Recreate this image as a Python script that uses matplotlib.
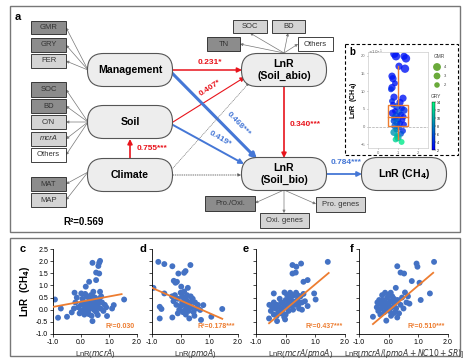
import numpy as np
import matplotlib.pyplot as plt
from matplotlib.patches import FancyBboxPatch, Rectangle
from matplotlib.cm import ScalarMappable
from matplotlib.colors import Normalize

plt.rcParams['font.family'] = ['Liberation Sans', 'DejaVu Sans']

# ---- data ----
path_coef = ['0.231*', '0.407*', '0.468***', '0.419*', '0.755***', '0.340***', '0.784***']
r2_model = 'R²=0.569'

c_x = [0.41, 0.65, 0.68, 0.62, 0.54, 0.65, 0.29, 0.54, 0.17, -0.23, 0.01, 0.44, 0.68, -0.93, -0.72,
       -0.82, -0.5, -0.33, 0.41, 0.93, 1.11, 1.17, 1.54, 0.6,
       -0.2, -0.1, 0.0, 0.05, 0.1, 0.15, 0.2, 0.25, 0.3, 0.35, 0.4, 0.45, 0.5, 0.55, 0.6, 0.65, 0.7, 0.75,
       -0.05, 0.12, 0.28, 0.38, 0.5, 0.2, -0.15, 0.08, 0.32, 0.48, 0.62, 0.8, 0.85, 0.0, 0.25, 0.42,
       -0.25, 0.15, 0.35, 0.58, 0.72, 0.9]
c_y = [1.93, 1.93, 2.01, 1.8, 1.53, 1.49, 1.15, 1.22, 0.95, 0.7, 0.67, 0.74, 0.74, 0.42, 0.05,
       -0.33, -0.29, -0.11, -0.47, -0.26, 0.05, 0.19, 0.42, -0.22,
       0.3, 0.1, 0.2, 0.45, 0.0, 0.3, 0.15, -0.05, 0.4, 0.2, 0.05, 0.35, 0.15, -0.1, 0.25, 0.45, 0.05, 0.3,
       -0.15, -0.2, -0.18, -0.25, 0.5, 0.55, 0.5, 0.2, 0.05, -0.02, 0.1, -0.05, 0.2, -0.05, 0.3, 0.55,
       0.05, 0.65, 0.6, 0.35, 0.55, 0.1]

d_x = [-0.78, -0.57, -0.29, 0.34, -0.08, 0.12, 0.17, -0.24, -0.18, -0.13, -0.95, -0.57, -0.73, -0.67,
       -0.73, -0.29, 0.68, 0.71, 1.07, 1.45, 0.3, 0.79,
       -0.2, -0.1, 0.0, 0.05, 0.1, 0.15, 0.2, 0.25, 0.3, 0.35, 0.4, 0.45, 0.5, -0.15, -0.05, 0.08, 0.18,
       0.28, 0.38, 0.55, 0.6, -0.25, 0.0, 0.12, 0.22, 0.42, -0.1, 0.15, 0.32, 0.48, 0.05, -0.3, 0.25, 0.02]
d_y = [1.97, 1.88, 1.79, 1.84, 1.49, 1.52, 1.59, 1.19, 1.11, 1.15, 0.9, 0.67, 0.12, 0.03,
       -0.36, -0.32, -0.01, -0.42, -0.29, 0.03, -0.36, 0.19,
       0.6, 0.45, 0.7, 0.3, 0.5, 0.2, 0.4, 0.05, 0.25, 0.55, 0.1, -0.1, 0.3, 0.2, 0.0, -0.1, -0.2,
       -0.05, 0.35, 0.05, 0.2, 0.35, 0.15, 0.75, 0.6, 0.45, -0.15, 0.0, 0.15, -0.25, 0.55, 0.55, 0.9, 0.95]

e_x = [1.42, 0.23, 0.52, 0.36, 0.23, 0.34, 0.6, 0.74, -0.04, -0.4, 0.96, 1.01, -0.56, -0.29, -0.02, 0.74,
       -0.5, -0.45, -0.4, -0.35, -0.3, -0.25, -0.2, -0.15, -0.1, -0.05, 0.0, 0.05, 0.1, 0.15, 0.2, 0.25,
       0.3, 0.35, 0.4, 0.45, 0.5, 0.55, 0.6, -0.3, -0.15, 0.0, 0.1, 0.2, 0.35, 0.45, -0.2, 0.05, -0.4,
       0.25, 0.55, 0.65, -0.05, 0.15, -0.55, 0.4]
e_y = [1.97, 1.84, 1.9, 1.77, 1.49, 1.53, 1.15, 1.22, 0.71, 0.67, 0.67, 0.42, -0.36, -0.47, -0.4, 0.15,
       -0.05, 0.1, -0.2, 0.05, 0.2, -0.1, 0.1, 0.3, 0.0, 0.2, 0.4, 0.1, 0.25, 0.45, 0.15, 0.35,
       0.6, 0.2, 0.4, 0.05, 0.55, 0.3, 0.65, -0.25, -0.15, -0.2, -0.05, 0.55, 0.7, 0.25, 0.45, 0.6, 0.3,
       0.0, 0.0, 0.35, -0.3, 0.7, 0.2, 0.6]

f_x = [1.53, 0.29, 0.94, 0.97, 0.4, 0.52, 0.78, 1.04, 1.39, 0.24, 0.07, 0.55, 1.08, -0.53, -0.08, 0.29, 0.35,
       -0.4, -0.35, -0.3, -0.28, -0.25, -0.2, -0.18, -0.15, -0.1, -0.08, -0.05, 0.0, 0.02, 0.05, 0.1, 0.12,
       0.15, 0.2, 0.25, 0.3, -0.22, -0.12, 0.0, -0.32, 0.08, -0.02, 0.18, 0.4, 0.45, 0.6, 0.5, 0.7, 0.65,
       -0.15, 0.1, -0.38, 0.22]
f_y = [1.97, 1.79, 1.9, 1.77, 1.53, 1.49, 1.18, 1.11, 0.67, 0.9, 0.7, 0.71, 0.4, -0.29, -0.45, -0.32, -0.15,
       0.1, -0.05, 0.25, -0.2, 0.05, 0.4, 0.15, -0.1, 0.3, 0.05, 0.5, 0.2, -0.05, 0.35, 0.1, 0.55,
       -0.15, 0.25, 0.05, 0.4, 0.6, 0.7, 0.6, 0.4, -0.25, 0.0, 0.45, 0.2, 0.5, 0.3, 0.05, 0.25, 0.55,
       0.25, 0.35, 0.3, -0.1]

# intercept, slope, x-range of the fitted line
fit_c = [0.33, 0.215, -1.0, 1.45]
fit_d = [0.38, -0.52, -1.0, 1.45]
fit_e = [0.02, 1.03, -0.56, 1.45]
fit_f = [-0.04, 1.04, -0.53, 1.5]
r2_panels = ['R²=0.030', 'R²=0.178***', 'R²=0.437***', 'R²=0.510***']
xlabels = [r'LnR($\it{mcrA}$)', r'LnR($\it{pmoA}$)', r'LnR($\it{mcrA/pmoA}$)',
           r'LnR[$\it{mcrA/(pmoA+NC10+SR)}$]']

# inset b (y in units of 10^-1)
b_x = [0.82, 0.9, 1.3, 1.4, 1.05, 1.35, 0.7, 0.75, 0.85, 0.7, 0.65, 0.8, 1.25, 0.7, 1.1, 0.75, 0.95, 1.2,
       1.3, 0.85, 1.05, 0.72, 1.15, 0.9, 1.28, 0.8, 1.0, 1.22, 0.78, 0.95, 1.1, 1.3, 0.85, 1.05, 0.92, 1.25,
       0.8, 1.15, 0.95, 1.0, 0.88, 1.18]
b_y = [20.5, 19.8, 19.8, 19.2, 17.0, 16.3, 14.2, 13.5, 12.2, 11.0, 10.5, 8.3, 8.0, 7.2, 6.8, 6.2, 5.6, 5.2,
       4.6, 4.4, 4.0, 3.8, 3.4, 3.0, 2.8, 2.5, 2.2, 1.9, 1.6, 1.2, 0.9, 0.6, 0.2, -0.3, -0.8, -1.2,
       -1.6, -2.0, -2.6, -3.1, -3.6, -4.3]
b_gry = [3, 3, 3, 3, 3, 3, 3, 3, 3, 3, 4, 3, 3, 4, 3, 3, 5, 3, 4, 3, 6, 3, 4, 5, 3, 6, 4, 3, 5, 7, 4, 3,
         6, 5, 8, 4, 9, 6, 11, 10, 12, 13]
b_gmr = [4, 4, 3, 4, 3, 4, 3, 3, 2, 3, 2, 3, 3, 2, 3, 2, 3, 2, 3, 2, 2, 3, 2, 3, 2, 2, 3, 2, 2, 3, 2, 2,
         3, 2, 2, 2, 3, 2, 2, 3, 2, 2]
b_box = [-3.6, 0.3, 2.6, 6.0, 17.0]  # whisker low, q1, median, q3, whisker high
gmr_levels = [4, 3, 2]

RED = '#e8141c'
BLUE = '#4577d6'
ORANGE = '#ed7d31'
PTBLUE = '#4472c4'
DARK = '#8c8c8c'
LIGHT = '#d4d4d4'

W, H = 471, 364
fig = plt.figure(figsize=(4.71, 3.64), dpi=100)
ax0 = fig.add_axes([0, 0, 1, 1])
ax0.set_xlim(0, W)
ax0.set_ylim(H, 0)
ax0.axis('off')


def add_px(x, y, w, h):
    return fig.add_axes([x / W, 1 - (y + h) / H, w / W, h / H])


def node(cx, cy, txt, w=85, h=33):
    ax0.add_patch(FancyBboxPatch((cx - w / 2, cy - h / 2), w, h,
                                 boxstyle='round,pad=0,rounding_size=16',
                                 fc='#ededed', ec='#555555', lw=0.8, zorder=3))
    ax0.text(cx, cy, txt, ha='center', va='center', fontsize=7.6, fontweight='bold',
             linespacing=1.25, zorder=4)


def ibox(x0, y0, x1, y1, txt, fc, italic=False):
    ax0.add_patch(Rectangle((x0, y0), x1 - x0, y1 - y0, fc=fc, ec='#222222', lw=0.6, zorder=3))
    ax0.text((x0 + x1) / 2, (y0 + y1) / 2, txt, ha='center', va='center', fontsize=5.5,
             style='italic' if italic else 'normal', color='#333333', zorder=4)


def arrow(p0, p1, color, lw, ms=7, ls='-'):
    ax0.annotate('', xy=p1, xytext=p0,
                 arrowprops=dict(arrowstyle='-|>', color=color, lw=lw, ls=ls,
                                 mutation_scale=ms, shrinkA=0, shrinkB=0), zorder=2)


# panel frames
ax0.add_patch(Rectangle((10, 6), 450, 226, fc='none', ec='#777777', lw=1.0))
ax0.add_patch(Rectangle((10, 238), 450, 118, fc='none', ec='#777777', lw=1.0))
ax0.text(15, 17, 'a', fontsize=8, fontweight='bold', ha='left', va='center')

# indicator boxes and thin arrows
left_boxes = [('GMR', 21, 34, DARK, False), ('GRY', 38, 52, DARK, False), ('FER', 54, 68, LIGHT, False),
              ('SOC', 82, 97, DARK, False), ('BD', 99, 113, DARK, False), ('C/N', 115, 129, LIGHT, False),
              ('mcrA', 132, 146, LIGHT, True), ('Others', 148, 162, 'white', False),
              ('MAT', 177, 191, DARK, False), ('MAP', 193, 207, LIGHT, False)]
sources = [(88, 70)] * 3 + [(88, 122)] * 5 + [(88, 172)] * 2
for (t, y0, y1, fc, it), src in zip(left_boxes, sources):
    ibox(31, y0, 66, y1, t, fc, it)
    arrow(src, (66, (y0 + y1) / 2), '#777777', 0.5, ms=4)

ibox(233, 20, 267, 33, 'SOC', LIGHT)
ibox(272, 20, 305, 33, 'BD', LIGHT)
ibox(207, 37, 240, 51, 'TN', DARK)
ibox(298, 37, 333, 51, 'Others', 'white')
for p in [(250, 33), (288, 33), (240, 44), (298, 44)]:
    arrow((284, 53), p, '#777777', 0.5, ms=4)

ibox(205, 196, 255, 211, 'Pro./Oxi.', DARK)
ibox(260, 213, 309, 228, 'Oxi. genes', LIGHT)
ibox(316, 197, 365, 212, 'Pro. genes', LIGHT)
for p in [(255, 203), (284, 213), (316, 204)]:
    arrow((284, 190), p, '#777777', 0.5, ms=4)

# main nodes
node(130, 70, 'Management')
node(130, 122, 'Soil')
node(130, 175, 'Climate')
node(284, 70, 'LnR\n(Soil_abio)')
node(284, 174, 'LnR\n(Soil_bio)')
node(404, 174, 'LnR (CH$_\\mathbf{4}$)')

# paths
arrow((173, 70), (242, 70), RED, 1.1)
arrow((173, 122), (245, 77), RED, 0.8)
arrow((172, 73), (257, 159), BLUE, 2.2, ms=8)
arrow((173, 125), (244, 164), BLUE, 1.4)
arrow((130, 159), (130, 139), RED, 1.2)
arrow((173, 168), (249, 83), '#777777', 0.5, ms=4, ls=':')
arrow((173, 175), (241, 175), '#555555', 0.6, ms=4, ls=':')
arrow((284, 87), (284, 158), RED, 1.2)
arrow((327, 174), (362, 174), BLUE, 1.3)

ax0.text(210, 63, path_coef[0], color=RED, fontsize=6, fontweight='bold', ha='center', va='center')
ax0.text(210, 88, path_coef[1], color=RED, fontsize=6, fontweight='bold', ha='center', va='center', rotation=33)
ax0.text(238, 124, path_coef[2], color=BLUE, fontsize=6, fontweight='bold', ha='center', va='center', rotation=-46)
ax0.text(220, 139, path_coef[3], color=BLUE, fontsize=6, fontweight='bold', ha='center', va='center', rotation=-30)
ax0.text(137, 149, path_coef[4], color=RED, fontsize=6, fontweight='bold', ha='left', va='center')
ax0.text(290, 124, path_coef[5], color=RED, fontsize=6, fontweight='bold', ha='left', va='center')
ax0.text(346, 163, path_coef[6], color=BLUE, fontsize=6, fontweight='bold', ha='center', va='center')
ax0.text(63, 222, r2_model, fontsize=7, fontweight='bold', ha='left', va='center')

# inset b
ax0.add_patch(Rectangle((345, 44), 113, 111, fc='white', ec='black', lw=0.8, ls=(0, (3, 2)), zorder=1))
ax0.text(349, 52, 'b', fontsize=7, fontweight='bold', ha='left', va='center', zorder=5)
axb = add_px(368, 52, 60, 96)
axb.set_xlim(-0.5, 2.5)
axb.set_ylim(-6, 21)
axb.axhline(0, color='#aaaaaa', lw=0.5, ls='--')
norm = Normalize(2, 14)
axb.scatter(b_x, b_y, c=b_gry, cmap='winter', norm=norm, s=np.array(b_gmr) * 9, alpha=0.8,
            edgecolors='none', zorder=2)
wl, q1, med, q3, wh = b_box
axb.add_patch(Rectangle((0.5, q1), 1.0, q3 - q1, fc='none', ec=ORANGE, lw=1.0, zorder=3))
axb.plot([0.5, 1.5], [med, med], color=ORANGE, lw=1.0, zorder=3)
axb.plot([1, 1], [q3, wh], color=ORANGE, lw=1.0, zorder=3)
axb.plot([1, 1], [wl, q1], color=ORANGE, lw=1.0, zorder=3)
axb.set_xticks([0, 1, 2])
axb.set_yticks([-5, 0, 5, 10, 15, 20])
axb.tick_params(labelsize=3, length=1, width=0.4, pad=1, colors='#666666')
for s in axb.spines.values():
    s.set_color('#cccccc')
    s.set_linewidth(0.5)
axb.set_ylabel('LnR  (CH$_\\mathbf{4}$)', fontsize=5, fontweight='bold', labelpad=1)
axb.text(0.0, 1.0, r'$\times10^{-1}$', transform=axb.transAxes, fontsize=3, color='#666666',
         ha='left', va='center')

cax = add_px(432, 102, 3, 48)
cb = fig.colorbar(ScalarMappable(norm=norm, cmap='winter'), cax=cax)
cb.set_ticks([2, 4, 6, 8, 10, 12, 14])
cb.ax.tick_params(labelsize=2.5, length=0.8, width=0.3, pad=0.5)
cb.outline.set_linewidth(0.3)
ax0.text(436, 96, 'GRY', fontsize=3.5, ha='center', va='center', color='#444444', zorder=5)
ax0.text(439, 56, 'GMR', fontsize=3.5, ha='center', va='center', color='#444444', zorder=5)
for g, yy in zip(gmr_levels, [67, 76, 85]):
    ax0.scatter([437], [yy], s=g * 8, color='#6aaa3a', edgecolors='none', zorder=5)
    ax0.text(444, yy, str(g), fontsize=3, ha='left', va='center', color='#444444', zorder=5)

# panels c-f
panel_pos = [(53, 84), (152, 86), (256, 89), (359, 89)]
xs = [c_x, d_x, e_x, f_x]
ys = [c_y, d_y, e_y, f_y]
fits = [fit_c, fit_d, fit_e, fit_f]
letters = ['c', 'd', 'e', 'f']
letter_x = [20, 139, 243, 350]
for i in range(4):
    x0, w = panel_pos[i]
    ax = add_px(x0, 249, w, 85)
    ax.scatter(xs[i], ys[i], s=18, color=PTBLUE, edgecolors='none', zorder=2)
    a, b, xa, xb = fits[i]
    xl = np.array([xa, xb])
    ax.plot(xl, a + b * xl, color=ORANGE, lw=1.3, zorder=3)
    ax.set_xlim(-1, 2)
    ax.set_ylim(-1, 2.5)
    ax.set_xticks([-1, 0, 1, 2])
    ax.set_xticklabels(['-1.0', '0.0', '1.0', '2.0'])
    ax.set_yticks([-1, -0.5, 0, 0.5, 1, 1.5, 2, 2.5])
    ax.set_yticklabels(['-1.0', '-0.5', '0.0', '0.5', '1.0', '1.5', '2.0', '2.5'])
    ax.tick_params(labelsize=5, length=2, width=0.5, pad=1.5, labelleft=(i == 0))
    ax.spines['top'].set_visible(False)
    ax.spines['right'].set_visible(False)
    ax.spines['left'].set_linewidth(0.6)
    ax.spines['bottom'].set_linewidth(0.6)
    ax.set_xlabel(xlabels[i], fontsize=5.5, labelpad=0.5, color='#333333')
    ax.text(0.97, 0.09, r2_panels[i], transform=ax.transAxes, color=ORANGE, fontsize=5,
            fontweight='bold', ha='right', va='center')
    ax0.text(letter_x[i], 249, letters[i], fontsize=8, fontweight='bold', ha='left', va='center')
    if i == 0:
        ax.set_ylabel('LnR  (CH$_\\mathbf{4}$)', fontsize=7, fontweight='bold', labelpad=3)

fig.savefig('out.png', dpi=100)
